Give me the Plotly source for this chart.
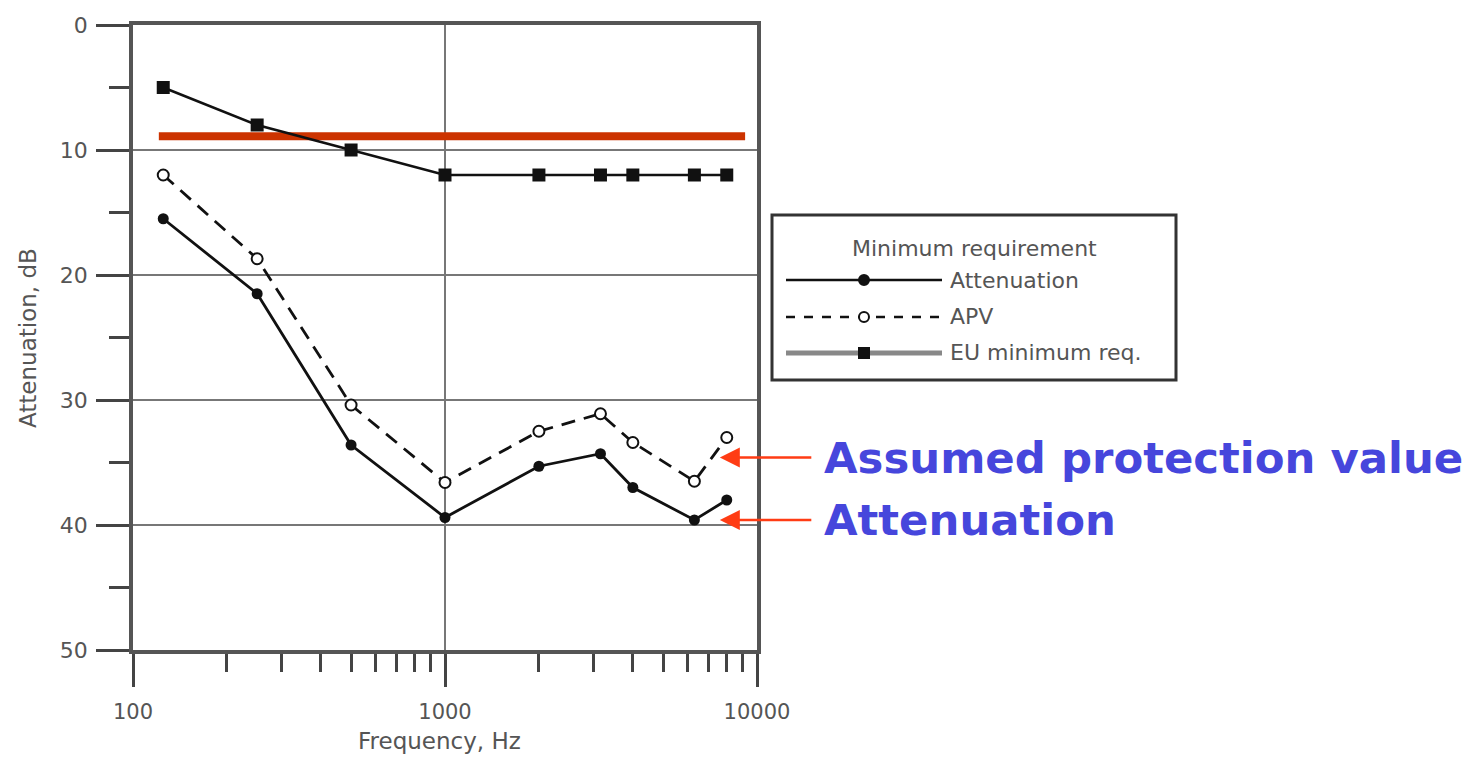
import math
import plotly.graph_objects as go

# ---------------- data ----------------
freqs = [125, 250, 500, 1000, 2000, 3150, 4000, 6300, 8000]
attenuation = [15.5, 21.5, 33.6, 39.4, 35.3, 34.3, 37.0, 39.6, 38.0]
apv = [12.0, 18.7, 30.4, 36.6, 32.5, 31.1, 33.4, 36.5, 33.0]
eu_min = [5, 8, 10, 12, 12, 12, 12, 12, 12]
threshold_freqs = [121, 9160]
threshold_db = [8.9, 8.9]

y_tick_vals = [0, 10, 20, 30, 40, 50]
y_tick_text = ["0", "10", "20", "30", "40", "50"]
x_tick_vals = [100, 1000, 10000]
x_tick_text = ["100", "1000", "10000"]
x_minor_vals = [200, 300, 400, 500, 600, 700, 800, 900,
                2000, 3000, 4000, 5000, 6000, 7000, 8000, 9000]

x_title = "Frequency, Hz"
y_title = "Attenuation, dB"
legend_title = "Minimum requirement"
legend_labels = ["Attenuation", "APV", "EU minimum req."]
callout_labels = ["Assumed protection value", "Attenuation"]
callout_freq = 7600          # arrow tip frequency
callout_db = [34.6, 39.6]    # arrow tip levels

# ---------------- layout helpers ----------------
VIEW_W, VIEW_H = 1474, 758
OFF = 8                                   # page body margin
W, H = VIEW_W - 2 * OFF, VIEW_H - OFF
L0, T0, X1, Y1 = 133, 25, 757, 650        # wanted plot-area edges in window pixels
L, T = L0 - OFF, T0 - OFF
R, B = W - (X1 - OFF), H - (Y1 - OFF)
PW, PH = X1 - L0, Y1 - T0


def px_x(p):
    return (p - L0) / PW


def px_y(p):
    return (Y1 - p) / PH


FONT = "DejaVu Sans"
GREY = "#555555"
BLUE = "#4646DC"
RED = "#FF3C14"
INK = "#111111"

fig = go.Figure()

fig.add_trace(go.Scatter(
    x=threshold_freqs, y=threshold_db, mode="lines",
    line=dict(color="#CC3300", width=8), showlegend=False, hoverinfo="skip"))

fig.add_trace(go.Scatter(
    x=freqs, y=eu_min, mode="lines+markers", name=legend_labels[2],
    line=dict(color=INK, width=2.6),
    marker=dict(symbol="square", size=13, color=INK), showlegend=False))

fig.add_trace(go.Scatter(
    x=freqs, y=apv, mode="lines+markers", name=legend_labels[1],
    line=dict(color=INK, width=2.8, dash="14px,9px"),
    marker=dict(symbol="circle", size=11, color="white",
                line=dict(color=INK, width=2)), showlegend=False))

fig.add_trace(go.Scatter(
    x=freqs, y=attenuation, mode="lines+markers", name=legend_labels[0],
    line=dict(color=INK, width=2.8),
    marker=dict(symbol="circle", size=11, color=INK), showlegend=False))

shapes = []
annotations = []

# ---------------- axis titles ----------------
annotations.append(dict(text=x_title, xref="paper", yref="paper", x=px_x(439), y=px_y(741),
                        xanchor="center", yanchor="middle", showarrow=False,
                        font=dict(family=FONT, size=23, color=GREY)))
annotations.append(dict(text=y_title, xref="paper", yref="paper", x=px_x(28), y=px_y(338),
                        xanchor="center", yanchor="middle", textangle=-90, showarrow=False,
                        font=dict(family=FONT, size=23, color=GREY)))

# ---------------- custom legend ----------------
lx0, lx1, ly0, ly1 = 772, 1176, 215, 380
shapes.append(dict(type="rect", xref="paper", yref="paper",
                   x0=px_x(lx0), x1=px_x(lx1), y0=px_y(ly1), y1=px_y(ly0),
                   line=dict(color="#333333", width=3), fillcolor="white", layer="below"))
annotations.append(dict(text=legend_title, xref="paper", yref="paper",
                        x=px_x((lx0 + lx1) / 2), y=px_y(248), xanchor="center", yanchor="middle",
                        showarrow=False, font=dict(family=FONT, size=22, color=GREY)))
row_y = [280, 317, 353]
line_x0, line_x1, mark_x, text_x = 786, 942, 864, 948
line_styles = [dict(color=INK, width=2.6, dash="solid"),
               dict(color=INK, width=2.6, dash="dash"),
               dict(color="#888888", width=5, dash="solid")]
for i, lab in enumerate(legend_labels):
    shapes.append(dict(type="line", xref="paper", yref="paper",
                       x0=px_x(line_x0), x1=px_x(line_x1), y0=px_y(row_y[i]), y1=px_y(row_y[i]),
                       line=line_styles[i]))
    if i == 2:
        shapes.append(dict(type="rect", xref="paper", yref="paper", xsizemode="pixel", ysizemode="pixel",
                           xanchor=px_x(mark_x), yanchor=px_y(row_y[i]), x0=-6, x1=6, y0=-6, y1=6,
                           fillcolor=INK, line=dict(width=0)))
    else:
        shapes.append(dict(type="circle", xref="paper", yref="paper", xsizemode="pixel", ysizemode="pixel",
                           xanchor=px_x(mark_x), yanchor=px_y(row_y[i]), x0=-5, x1=5, y0=-5, y1=5,
                           fillcolor=INK if i == 0 else "white",
                           line=dict(color=INK, width=2)))
    annotations.append(dict(text=lab, xref="paper", yref="paper", x=px_x(text_x), y=px_y(row_y[i]),
                            xanchor="left", yanchor="middle", showarrow=False,
                            font=dict(family=FONT, size=22, color=GREY)))

# ---------------- call-outs ----------------
for i, lab in enumerate(callout_labels):
    annotations.append(dict(x=math.log10(callout_freq), y=callout_db[i], xref="x", yref="y",
                            text="", showarrow=True, ax=93, ay=0, arrowhead=2, arrowsize=1.6,
                            arrowwidth=2.5, arrowcolor=RED, standoff=0))
    annotations.append(dict(text="<b>%s</b>" % lab, x=math.log10(callout_freq), y=callout_db[i],
                            xref="x", yref="y", xshift=102, xanchor="left", yanchor="middle",
                            showarrow=False, font=dict(family=FONT, size=43.4, color=BLUE)))

fig.update_layout(
    width=W, height=H,
    margin=dict(l=L, r=R, t=T, b=B, pad=0, autoexpand=False),
    paper_bgcolor="white", plot_bgcolor="white",
    shapes=shapes, annotations=annotations,
    showlegend=False,
)

fig.update_xaxes(
    type="log", range=[2, 4], automargin=False,
    tickvals=x_tick_vals, ticktext=x_tick_text,
    ticks="outside", ticklen=33, tickwidth=2.5, tickcolor="#444444",
    tickfont=dict(family=FONT, size=21, color=GREY), ticklabelstandoff=7,
    showgrid=True, gridcolor="#777777", gridwidth=1.5,
    showline=True, linecolor="#555555", linewidth=3.5, mirror=True,
    zeroline=False,
    minor=dict(tickvals=x_minor_vals, ticks="outside", ticklen=18, tickwidth=2.5,
               tickcolor="#444444", showgrid=False),
)

fig.update_yaxes(
    range=[50, 0], automargin=False,
    tickvals=y_tick_vals, ticktext=y_tick_text,
    ticks="outside", ticklen=33, tickwidth=2.5, tickcolor="#444444",
    tickfont=dict(family=FONT, size=22, color=GREY), ticklabelstandoff=4,
    showgrid=True, gridcolor="#777777", gridwidth=1.5,
    showline=True, linecolor="#555555", linewidth=3.5, mirror=True,
    zeroline=False,
    minor=dict(dtick=5, tick0=0, ticks="outside", ticklen=20, tickwidth=2.5,
               tickcolor="#444444", showgrid=False),
)

fig.write_html("out.html")
